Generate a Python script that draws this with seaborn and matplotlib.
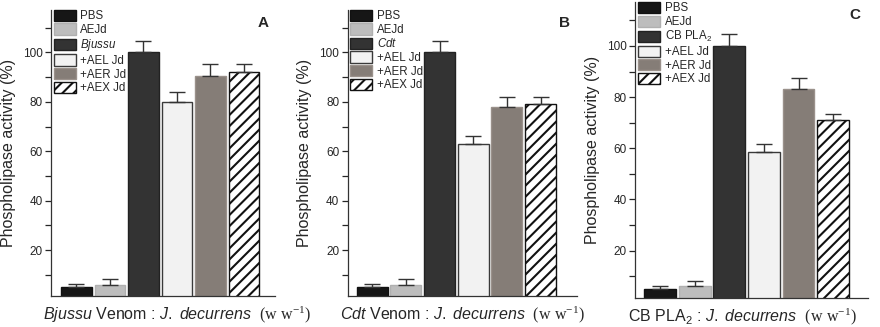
import numpy as np
import pandas as pd
import matplotlib
matplotlib.use('Agg')
import matplotlib.pyplot as plt
from matplotlib.ticker import MultipleLocator
import seaborn as sns

# data (upper error bar only)
groups = ['PBS', 'AEJd', 'Venom', '+AEL Jd', '+AER Jd', '+AEX Jd']

activity_a = [5.0, 6.0, 100.0, 80.0, 90.4, 92.1]
error_a = [1.2, 2.3, 4.4, 4.0, 4.7, 3.0]

activity_b = [5.0, 6.0, 100.0, 63.1, 77.8, 79.2]
error_b = [1.2, 2.3, 4.4, 3.2, 4.1, 2.7]

activity_c = [5.1, 6.1, 100.0, 58.6, 83.2, 71.0]
error_c = [1.2, 2.1, 4.6, 3.0, 4.3, 2.4]

venom_labels = [r'$\mathit{Bjussu}$', r'$\mathit{Cdt}$', r'CB PLA$_2$']
xlabels = [
    r'$\mathit{Bjussu}$ Venom : $\mathit{J.\ decurrens}$  $\mathsf{(w\ w^{-1})}$',
    r'$\mathit{Cdt}$ Venom : $\mathit{J.\ decurrens}$  $\mathsf{(w\ w^{-1})}$',
    r'CB PLA$_2$ : $\mathit{J.\ decurrens}$  $\mathsf{(w\ w^{-1})}$',
]
panel_letters = ['A', 'B', 'C']

face_colors = ['#161616', '#bdbdbd', '#333333', '#f2f2f2', '#857d77', '#ffffff']
edge_colors = ['#111111', '#b0b0b0', '#222222', '#3a3a3a', '#9a918b', '#111111']
hatches = ['', '', '', '', '', '///']

sns.set_style('ticks')
plt.rcParams['font.family'] = ['Liberation Sans', 'DejaVu Sans']
plt.rcParams['mathtext.fontset'] = 'custom'
plt.rcParams['mathtext.rm'] = 'Liberation Sans'
plt.rcParams['mathtext.it'] = 'Liberation Sans:italic'
plt.rcParams['mathtext.bf'] = 'Liberation Sans:bold'
plt.rcParams['mathtext.sf'] = 'Liberation Serif'
plt.rcParams['hatch.linewidth'] = 1.5
plt.rcParams['hatch.color'] = '#111111'

fig = plt.figure(figsize=(8.8, 3.27), dpi=100)

rects = [
    (0.058, 0.095, 0.255, 0.875),
    (0.395, 0.095, 0.261, 0.875),
    (0.722, 0.089, 0.264, 0.905),
]
xlims = [(-0.76, 5.94), (-0.73, 6.09), (-0.72, 6.0)]
xlabel_x = [0.56, 0.5, 0.46]

panels = [(activity_a, error_a), (activity_b, error_b), (activity_c, error_c)]

for i, (vals, errs) in enumerate(panels):
    ax = fig.add_axes(rects[i])
    df = pd.DataFrame({'group': groups, 'activity': vals})
    sns.barplot(data=df, x='group', y='activity', hue='group', palette=face_colors,
                width=0.92, errorbar=None, saturation=1, legend=False, ax=ax)

    handles = []
    for j, cont in enumerate(ax.containers):
        bar = cont[0]
        bar.set_edgecolor(edge_colors[j])
        bar.set_linewidth(1.0)
        bar.set_hatch(hatches[j])
        handles.append(bar)

    ax.errorbar(np.arange(len(vals)), vals, yerr=[np.zeros(len(errs)), errs],
                fmt='none', ecolor='#333333', elinewidth=1.0, capsize=5.5, capthick=1.0)

    ax.set_xlim(*xlims[i])
    ax.set_ylim(1.5, 117.2)
    ax.set_xticks([])
    ax.yaxis.set_minor_locator(MultipleLocator(10))
    ax.set_yticks([20, 40, 60, 80, 100])
    ax.tick_params(axis='y', which='major', length=4, width=0.9, labelsize=8.5, pad=2)
    ax.tick_params(axis='y', which='minor', length=4, width=0.9)
    for side in ['top', 'right']:
        ax.spines[side].set_visible(False)
    for side in ['left', 'bottom']:
        ax.spines[side].set_linewidth(0.9)
        ax.spines[side].set_color('#333333')

    ax.set_ylabel('Phospholipase activity (%)', fontsize=11.5, labelpad=5)
    ax.set_xlabel(xlabels[i], fontsize=11.5)
    ax.xaxis.set_label_coords(xlabel_x[i], -0.03, transform=ax.transAxes)
    ax.xaxis.label.set_va('top')

    labels = ['PBS', 'AEJd', venom_labels[i], '+AEL Jd', '+AER Jd', '+AEX Jd']
    ax.legend(handles, labels, loc='upper left', bbox_to_anchor=(0.012, 1.0),
              frameon=False, fontsize=8.3, handlelength=1.9, handleheight=1.12,
              labelspacing=0.1, handletextpad=0.4, borderpad=0, borderaxespad=0)

    ax.text(0.945, 0.955, panel_letters[i], transform=ax.transAxes,
            fontsize=11, fontweight='bold', ha='center', va='center')

fig.savefig('out.png', dpi=100)
